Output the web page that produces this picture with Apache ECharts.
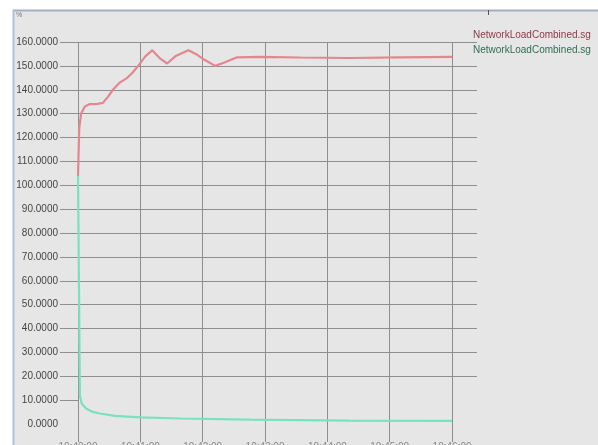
<!DOCTYPE html>
<html>
<head>
<meta charset="utf-8">
<script src="https://cdn.jsdelivr.net/npm/echarts@6/dist/echarts.min.js"></script>
<style>
  html, body { margin: 0; padding: 0; background: #ffffff; }
  #chart { width: 598px; height: 445px; }
</style>
</head>
<body>
<div id="chart"></div>
<script>
// Network load samples: x in chart time units, y in load units
const loadX = [0, 0.02, 0.05, 0.11, 0.19, 0.29, 0.40, 0.48, 0.56, 0.67, 0.79, 0.87, 0.95, 1.08, 1.19, 1.32, 1.43, 1.56, 1.77, 1.89, 2.0, 2.2, 2.36, 2.55, 2.92, 3.56, 4.36, 5.17, 6.0];
const loadY = [104, 124, 130, 133, 134, 134, 134.5, 137, 140, 143, 145, 147, 149.5, 154, 156.5, 153, 151, 154, 156.5, 155, 153, 150, 151.5, 153.6, 153.8, 153.5, 153.3, 153.6, 153.8];

const rateX = [0, 0.015, 0.03, 0.06, 0.13, 0.22, 0.35, 0.59, 1.0, 1.64, 2.76, 4.36, 6.0];
const rateY = [104, 60, 12, 8.5, 6.5, 5.2, 4.4, 3.4, 2.8, 2.3, 1.8, 1.4, 1.3];

const legendNames = ['NetworkLoadCombined.sg', 'NetworkLoadCombined.sg'];
const yTicks = [10, 20, 30, 40, 50, 60, 70, 80, 90, 100, 110, 120, 130, 140, 150, 160];
const xLabels = ['10:40:00', '10:41:00', '10:42:00', '10:43:00', '10:44:00', '10:45:00', '10:46:00'];

const pairs = (xs, ys) => xs.map((x, i) => [x, ys[i]]);

const gridColor = '#8e8e8e';
// hide the split line that sits on y = 0
const ySplitColors = ['rgba(0,0,0,0)'].concat(yTicks.map(() => gridColor));
// hide the split line at the right edge of the plot
const xSplitColors = [gridColor, gridColor, gridColor, gridColor, gridColor, gridColor, gridColor, 'rgba(0,0,0,0)'];

const chart = echarts.init(document.getElementById('chart'), null, { renderer: 'canvas' });
chart.setOption({
  backgroundColor: '#e6e6e7',
  animation: false,
  textStyle: { fontFamily: 'Liberation Sans, Arial, sans-serif' },
  grid: { left: 78, top: 42, right: 121, bottom: 21, containLabel: false, outerBoundsMode: 'none' },
  xAxis: {
    type: 'value',
    min: 0,
    max: 6.4,
    interval: 1,
    axisLine: { show: false },
    axisTick: { show: true, length: 18, lineStyle: { color: gridColor, width: 1 }, customValues: [0, 1, 2, 3, 4, 5, 6] },
    axisLabel: {
      show: true,
      margin: 18,
      fontSize: 10,
      color: '#888',
      customValues: [0, 1, 2, 3, 4, 5, 6],
      formatter: (v) => xLabels[Math.round(v)] || ''
    },
    splitLine: { show: true, lineStyle: { color: xSplitColors, width: 1 } }
  },
  yAxis: {
    type: 'value',
    min: 0,
    max: 160,
    interval: 10,
    axisLine: { show: false },
    axisTick: { show: true, length: 18, lineStyle: { color: gridColor, width: 1 }, customValues: yTicks },
    axisLabel: {
      margin: 20,
      fontSize: 10,
      color: '#454545',
      formatter: (v) => v.toFixed(4)
    },
    splitLine: { show: true, lineStyle: { color: ySplitColors, width: 1 } }
  },
  series: [
    {
      name: legendNames[0],
      type: 'line',
      data: pairs(loadX, loadY),
      showSymbol: false,
      lineStyle: { color: '#e3878f', width: 2.2 },
      itemStyle: { color: '#e3878f' },
      z: 3
    },
    {
      name: legendNames[1],
      type: 'line',
      data: pairs(rateX, rateY),
      showSymbol: false,
      lineStyle: { color: '#79e2bd', width: 2.2 },
      itemStyle: { color: '#79e2bd' },
      z: 2
    }
  ],
  graphic: [
    // white margin above and left of the panel
    { type: 'rect', shape: { x: 0, y: 0, width: 598, height: 10 }, style: { fill: '#ffffff' }, silent: true },
    { type: 'rect', shape: { x: 0, y: 0, width: 13, height: 445 }, style: { fill: '#ffffff' }, silent: true },
    // panel frame
    { type: 'line', shape: { x1: 13, y1: 10.5, x2: 598, y2: 10.5 }, style: { stroke: '#a6acc6', lineWidth: 2 }, silent: true },
    { type: 'line', shape: { x1: 13.5, y1: 10, x2: 13.5, y2: 445 }, style: { stroke: '#a9bfe2', lineWidth: 2 }, silent: true },
    { type: 'line', shape: { x1: 488.5, y1: 10, x2: 488.5, y2: 15 }, style: { stroke: '#555', lineWidth: 1 }, silent: true },
    { type: 'text', x: 16, y: 12, style: { text: '%', fontSize: 7, fill: '#777', fontFamily: 'Liberation Sans, Arial, sans-serif' }, silent: true },
    // series names
    { type: 'text', x: 473, y: 30, style: { text: legendNames[0], fontSize: 10, fill: '#8c3a48', fontFamily: 'Liberation Sans, Arial, sans-serif' }, silent: true },
    { type: 'text', x: 473, y: 45, style: { text: legendNames[1], fontSize: 10, fill: '#2f6e52', fontFamily: 'Liberation Sans, Arial, sans-serif' }, silent: true }
  ]
});
</script>
</body>
</html>
